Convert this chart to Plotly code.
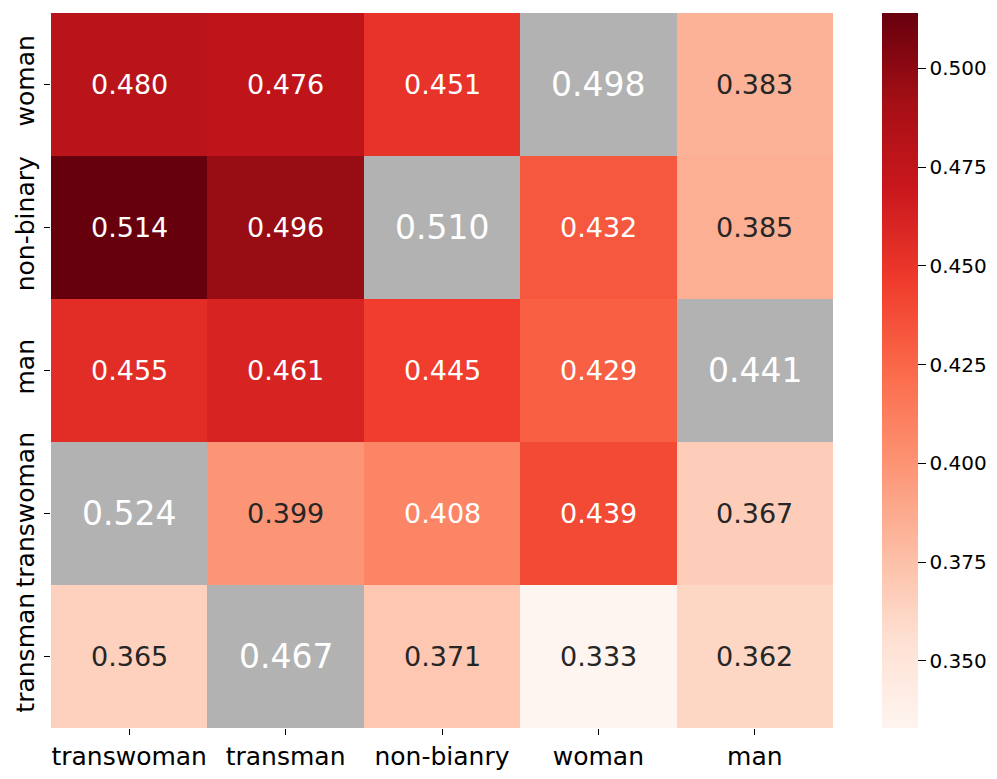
import plotly.graph_objects as go

# ---- data ----
row_labels = ["woman", "non-binary", "man", "transwoman", "transman"]
col_labels = ["transwoman", "transman", "non-bianry", "woman", "man"]
values = [
    [0.480, 0.476, 0.451, 0.498, 0.383],
    [0.514, 0.496, 0.510, 0.432, 0.385],
    [0.455, 0.461, 0.445, 0.429, 0.441],
    [0.524, 0.399, 0.408, 0.439, 0.367],
    [0.365, 0.467, 0.371, 0.333, 0.362],
]
# column index of the "same group" (gray) cell for each row
same_col = [3, 2, 4, 0, 1]
cbar_ticks = [0.350, 0.375, 0.400, 0.425, 0.450, 0.475, 0.500]

# ---- styling ----
FONT = "DejaVu Sans"
GRAY = "#b2b2b2"
reds = ["#fff5f0", "#fee0d2", "#fcbba1", "#fc9272", "#fb6a4a",
        "#ef3b2c", "#cb181d", "#a50f15", "#67000d"]
colorscale = [[i / (len(reds) - 1), c] for i, c in enumerate(reds)]

z_main, z_gray = [], []
for r, row in enumerate(values):
    zm, zg = [], []
    for c, v in enumerate(row):
        if c == same_col[r]:
            zm.append(None); zg.append(1)
        else:
            zm.append(v); zg.append(None)
    z_main.append(zm); z_gray.append(zg)

off = [v for r, row in enumerate(values) for c, v in enumerate(row) if c != same_col[r]]
zmin, zmax = min(off), max(off)

# page body has an 8px default margin; figure sized to fit the window
W, H = 989, 771
L, T, R, B = 43, 5, 164, 51
plot_w = W - L - R

fig = go.Figure()
fig.add_trace(go.Heatmap(
    z=z_main, x=col_labels, y=row_labels,
    colorscale=colorscale, zmin=zmin, zmax=zmax,
    hoverinfo="skip",
    colorbar=dict(
        x=49 / plot_w + 1.0, xanchor="left", xref="paper",
        y=0.5, yanchor="middle", len=1.0, lenmode="fraction",
        xpad=0, ypad=0,
        thickness=36, thicknessmode="pixels",
        outlinewidth=0,
        tickvals=cbar_ticks, ticktext=[f"{t:.3f}" for t in cbar_ticks],
        ticks="outside", ticklen=8, tickwidth=1.2, tickcolor="black",
        tickfont=dict(family=FONT, size=20, color="black"),
    ),
))
fig.add_trace(go.Heatmap(
    z=z_gray, x=col_labels, y=row_labels,
    colorscale=[[0, GRAY], [1, GRAY]], showscale=False, hoverinfo="skip",
))

annotations = []
for r, row in enumerate(values):
    for c, v in enumerate(row):
        if c == same_col[r]:
            color, size = "white", 33
        else:
            color = "#262626" if v < 0.404 else "white"
            size = 27
        annotations.append(dict(
            x=col_labels[c], y=row_labels[r], xref="x", yref="y",
            text=f"{v:.3f}", showarrow=False,
            font=dict(family=FONT, size=size, color=color),
        ))

fig.update_layout(
    width=W, height=H,
    margin=dict(l=L, r=R, t=T, b=B, autoexpand=False),
    paper_bgcolor="white", plot_bgcolor="white",
    font=dict(family=FONT, color="black"),
    annotations=annotations,
    xaxis=dict(
        automargin=False,
        showgrid=False, zeroline=False, showline=False,
        ticks="outside", ticklen=6, tickwidth=1.2, tickcolor="black",
        tickfont=dict(family=FONT, size=25, color="black"),
    ),
    yaxis=dict(
        automargin=False,
        autorange="reversed",
        showgrid=False, zeroline=False, showline=False,
        ticks="outside", ticklen=6, tickwidth=1.2, tickcolor="black",
        tickangle=-90,
        tickfont=dict(family=FONT, size=25, color="black"),
    ),
)

fig.write_html("out.html")
